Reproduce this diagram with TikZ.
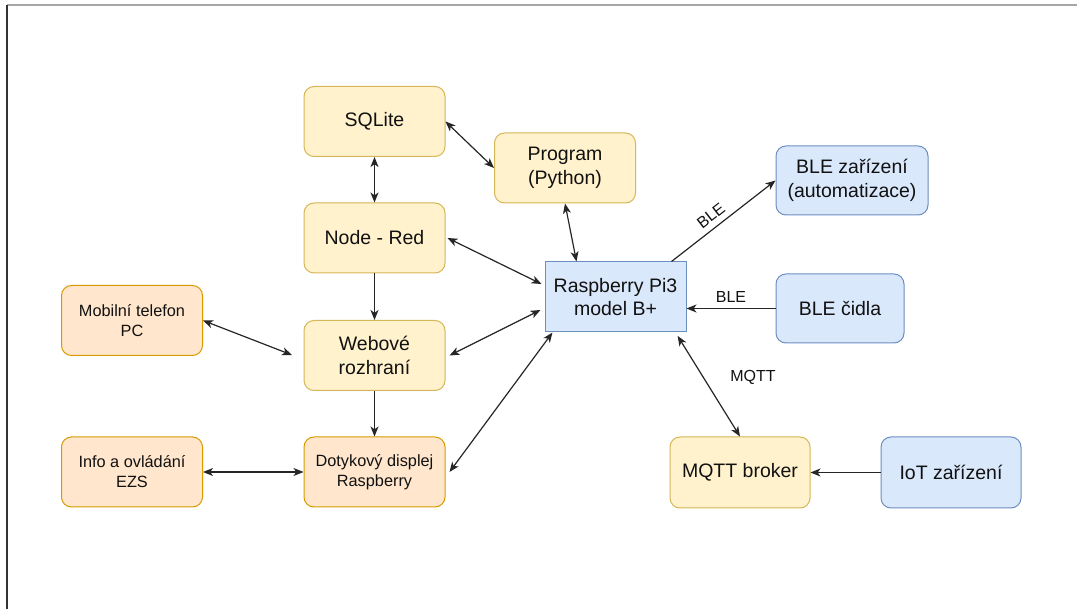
\documentclass[tikz,border=0pt]{standalone}
\usepackage{fontspec}
\setmainfont{Liberation Sans}
\usetikzlibrary{arrows.meta,calc}
\definecolor{yfill}{HTML}{FFF2CC}
\definecolor{ydraw}{HTML}{D6B656}
\definecolor{ofill}{HTML}{FFE6CC}
\definecolor{odraw}{HTML}{D79B00}
\definecolor{bfill}{HTML}{DAE8FC}
\definecolor{bdraw}{HTML}{6C8EBF}
\definecolor{txt}{HTML}{111111}
\begin{document}
\begin{tikzpicture}[x=1pt,y=-1pt,
  box/.style={draw, rounded corners=10pt, minimum width=141pt, minimum height=70pt,
    align=center, font=\fontsize{19.5}{23.5}\selectfont, line width=1pt, inner sep=0pt, text=txt},
  yel/.style={box, fill=yfill, draw=ydraw},
  ora/.style={box, fill=ofill, draw=odraw},
  blu/.style={box, fill=bfill, draw=bdraw},
  small/.style={font=\fontsize{16.3}{20}\selectfont},
  tip/.tip={Stealth[length=10pt,width=8pt,inset=2.8pt]},
  conn/.style={line width=1.2pt, draw=black!85, -tip},
  bi/.style={line width=1.2pt, draw=black!85, tip-tip},
  lbl/.style={font=\fontsize{16}{19}\selectfont, text=txt, inner sep=1pt}
]
\useasboundingbox (0,0) rectangle (1077,609);
\draw[black!35, line width=1.5pt] (7,5) -- (1077,5);
\draw[black!80, line width=1.5pt] (7,5) -- (7,609);

% nodes
\node[yel] (sql) at (374.5,121.5) {SQLite};
\node[yel] (prog) at (565,168) {Program\\(Python)};
\node[yel] (nr) at (374.5,238) {Node - Red};
\node[yel] (web) at (374.5,355.5) {Webové\\rozhraní};
\node[ora, small] (dd) at (374.5,472) {Dotykový displej\\Raspberry};
\node[ora, small] (mob) at (132,320.5) {Mobilní telefon\\PC};
\node[ora, small] (info) at (132,472) {Info a ovládání\\EZS};
\node[blu, rounded corners=0pt] (rasp) at (615.5,297) {Raspberry Pi3\\model B+};
\node[blu, minimum width=152pt, minimum height=69pt] (blez) at (852,180.5) {BLE zařízení\\(automatizace)};
\node[blu, minimum width=128pt, minimum height=69pt] (bc) at (840,308.5) {BLE čidla};
\node[yel, minimum width=140pt, minimum height=71pt] (mqtt) at (740,472.5) {MQTT broker};
\node[blu, minimum width=140pt, minimum height=71pt] (iot) at (951,472.5) {IoT zařízení};

\coordinate (mobend) at (292,355);

% connectors
\draw[bi] (sql) -- (nr);
\draw[bi] (sql.east) -- (prog.west);
\draw[bi] (prog.south) -- ([xshift=-39pt]rasp.north);
\draw[bi] ([xshift=2pt]nr.east) -- ([yshift=13pt, xshift=-3pt]rasp.west);
\draw[conn] (nr) -- (web);
\draw[conn] (web) -- (dd);
\draw[bi] ([xshift=4pt]web.east) -- ([yshift=-13pt, xshift=-4pt]rasp.west);
\draw[bi] ([xshift=4pt]dd.east) -- ([xshift=8pt]rasp.south west);
\draw[bi] (mob.east) -- (mobend);
\draw[bi] (info) -- (dd);
\draw[conn] ([xshift=56pt]rasp.north) -- node[lbl, sloped, above=5pt, pos=0.45] {BLE} (blez.west);
\draw[conn] (bc.west) -- node[lbl, above=4pt] {BLE} (bc.west -| rasp.east);
\draw[bi, shorten <=4pt] ([xshift=-11pt]rasp.south east) -- (mqtt.north);
\node[lbl] (mqttlbl) at (753,377) {MQTT};
\draw[conn] (iot) -- (mqtt);
\end{tikzpicture}
\end{document}
